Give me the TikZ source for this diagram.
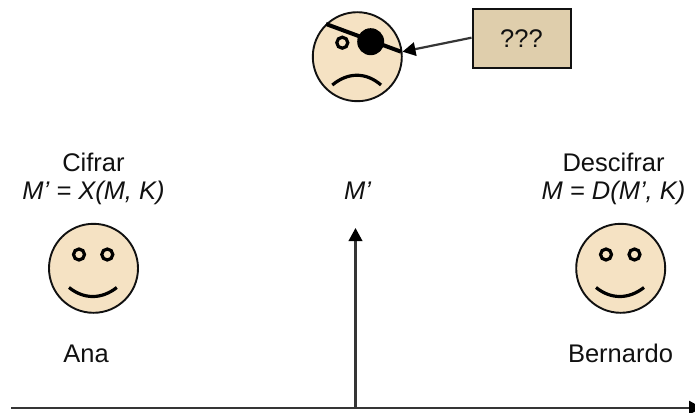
\documentclass[tikz,border=0pt]{standalone}
\usepackage{fontspec}
\setmainfont{Liberation Sans}
\usetikzlibrary{arrows.meta}
\definecolor{skin}{HTML}{F5E2C3}
\definecolor{boxtan}{HTML}{DFCEAC}
\definecolor{ink}{HTML}{111111}
\tikzset{
  x=1pt,y=-1pt,
  face/.style={circle,draw=ink,fill=skin,line width=1.9pt,minimum size=89pt,inner sep=0pt},
  eyeball/.style={circle,draw=black,fill=skin,line width=3.2pt,minimum size=11pt,inner sep=0pt},
  mouth/.style={draw=black,line width=3.2pt},
  lbl/.style={text=ink,font=\fontsize{25.5}{28}\selectfont,inner sep=0pt,anchor=base},
  arrowline/.style={draw=ink!85,line width=2.2pt,-{Triangle[length=13pt,width=13.5pt,color=black,fill=black]}},
}
\begin{document}
\begin{tikzpicture}
\useasboundingbox (0,0) rectangle (695,412);
% Ana
\node[face] (ana) at (93.5,268.3) {};
\node[eyeball] (anaL) at (79,254.5) {};
\node[eyeball] (anaR) at (107.3,254.5) {};
\draw[mouth] (69,287.5) .. controls (84,299.5) and (101.5,299.5) .. (116.8,287.5);
% Bernardo
\node[face] (ber) at (620.7,268.3) {};
\node[eyeball] (berL) at (606,254.5) {};
\node[eyeball] (berR) at (634.5,254.5) {};
\draw[mouth] (596,287.5) .. controls (611,299.5) and (628.5,299.5) .. (644,287.5);
% Eve
\node[face] (eve) at (357.3,56.7) {};
\node[eyeball] (eveE) at (342.3,42.7) {};
\node[circle,fill=black,minimum size=27pt,inner sep=0pt] (patch) at (370.7,41.7) {};
\coordinate (strapA) at (326,24);
\coordinate (strapB) at (401,51.7);
\draw[draw=black,line width=4pt] (strapA) -- (strapB);
\draw[mouth] (332.3,85) .. controls (348,72) and (366,72) .. (381,85);
% Box
\node[draw=ink,fill=boxtan,line width=2pt,minimum width=98pt,minimum height=58pt,inner sep=0pt,
  text=ink,font=\fontsize{25.5}{28}\selectfont] (box) at (521.5,38.5) {???};
\coordinate (hit) at (402.5,51.7);
\draw[arrowline] (box.west |- 0,37.7) -- (hit);
% Axis
\coordinate (axL) at (11,407.7);
\coordinate (axR) at (702,407.7);
\coordinate (axM) at (355.5,407.7);
\coordinate (axT) at (355.5,228);
\draw[arrowline] (axL) -- (axR);
\draw[arrowline] (axM) -- (axT);
% Labels
\node[lbl] (cif) at (93.5,171.5) {Cifrar};
\node[lbl] (cifE) at (93.5,199) {\itshape M’ = X(M, K)};
\node[lbl] (ana2) at (86,362) {Ana};
\node[lbl] (mp) at (357.5,199) {\itshape M’};
\node[lbl] (des) at (613.5,171.5) {Descifrar};
\node[lbl] (desE) at (613.5,199) {\itshape M = D(M’, K)};
\node[lbl] (ber2) at (620.5,362) {Bernardo};
\end{tikzpicture}
\end{document}
